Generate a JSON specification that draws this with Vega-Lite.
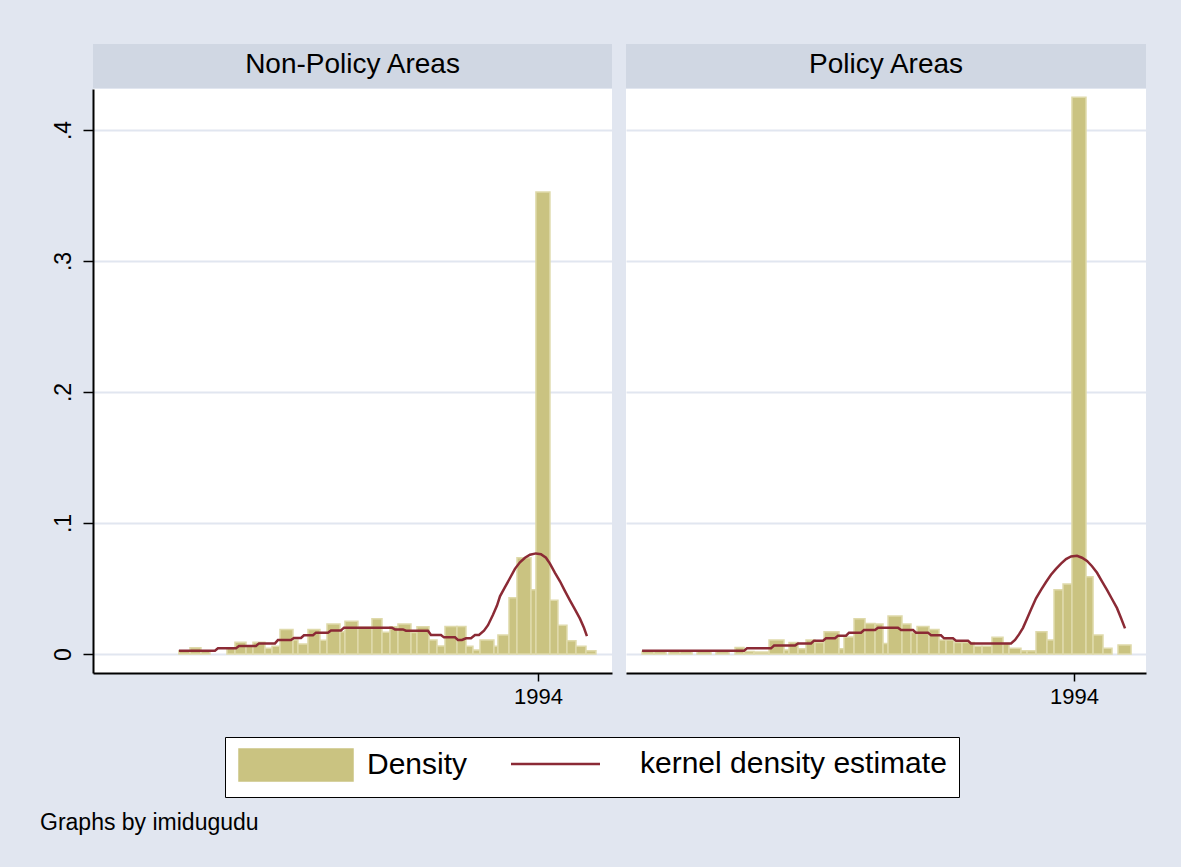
{
  "$schema": "https://vega.github.io/schema/vega-lite/v6.json",
  "background": "#E1E6F0",
  "padding": {"left": 40, "top": 44, "right": 35, "bottom": 38},
  "datasets": {
    "barsNP": [
      {"start": 1951.76, "end": 1953.06, "density": 0.0025},
      {"start": 1953.06, "end": 1954.35, "density": 0.0048},
      {"start": 1954.35, "end": 1955.41, "density": 0.0025},
      {"start": 1957.41, "end": 1958.35, "density": 0.0043},
      {"start": 1958.35, "end": 1959.65, "density": 0.0089},
      {"start": 1959.65, "end": 1960.47, "density": 0.006},
      {"start": 1960.47, "end": 1961.88, "density": 0.0089},
      {"start": 1961.88, "end": 1962.71, "density": 0.0043},
      {"start": 1962.71, "end": 1963.65, "density": 0.006},
      {"start": 1963.65, "end": 1965.18, "density": 0.0188},
      {"start": 1965.18, "end": 1965.76, "density": 0.0107},
      {"start": 1965.76, "end": 1966.94, "density": 0.0076},
      {"start": 1966.94, "end": 1968.35, "density": 0.0188},
      {"start": 1968.35, "end": 1969.18, "density": 0.0105},
      {"start": 1969.18, "end": 1970.71, "density": 0.0229},
      {"start": 1970.71, "end": 1971.29, "density": 0.017},
      {"start": 1971.29, "end": 1972.82, "density": 0.025},
      {"start": 1972.82, "end": 1974.47, "density": 0.0205},
      {"start": 1974.47, "end": 1975.65, "density": 0.027},
      {"start": 1975.65, "end": 1976.59, "density": 0.0167},
      {"start": 1976.59, "end": 1977.53, "density": 0.0209},
      {"start": 1977.53, "end": 1979.06, "density": 0.0229},
      {"start": 1979.06, "end": 1979.76, "density": 0.0165},
      {"start": 1979.76, "end": 1981.18, "density": 0.0209},
      {"start": 1981.18, "end": 1982.12, "density": 0.0107},
      {"start": 1982.12, "end": 1983.06, "density": 0.0061},
      {"start": 1983.06, "end": 1984.47, "density": 0.021},
      {"start": 1984.47, "end": 1985.53, "density": 0.021},
      {"start": 1985.53, "end": 1986.35, "density": 0.006},
      {"start": 1986.35, "end": 1987.18, "density": 0.003},
      {"start": 1987.18, "end": 1988.82, "density": 0.0107},
      {"start": 1988.82, "end": 1989.29, "density": 0.006},
      {"start": 1989.29, "end": 1990.59, "density": 0.0145},
      {"start": 1990.59, "end": 1991.53, "density": 0.043},
      {"start": 1991.53, "end": 1993.18, "density": 0.0735},
      {"start": 1993.18, "end": 1993.76, "density": 0.049},
      {"start": 1993.76, "end": 1995.41, "density": 0.3527},
      {"start": 1995.41, "end": 1996.35, "density": 0.041},
      {"start": 1996.35, "end": 1997.41, "density": 0.022},
      {"start": 1997.41, "end": 1998.47, "density": 0.0102},
      {"start": 1998.47, "end": 1999.65, "density": 0.006},
      {"start": 1999.65, "end": 2000.82, "density": 0.0025}
    ],
    "barsP": [
      {"start": 1943.18, "end": 1944.59, "density": 0.002},
      {"start": 1944.59, "end": 1946.0, "density": 0.002},
      {"start": 1946.35, "end": 1947.65, "density": 0.002},
      {"start": 1947.65, "end": 1949.06, "density": 0.002},
      {"start": 1949.65, "end": 1951.29, "density": 0.002},
      {"start": 1951.88, "end": 1953.41, "density": 0.002},
      {"start": 1954.12, "end": 1955.18, "density": 0.005},
      {"start": 1955.18, "end": 1956.35, "density": 0.002},
      {"start": 1956.35, "end": 1958.12, "density": 0.0015},
      {"start": 1958.12, "end": 1959.88, "density": 0.0107},
      {"start": 1959.88, "end": 1960.47, "density": 0.003},
      {"start": 1960.47, "end": 1961.53, "density": 0.0088},
      {"start": 1961.53, "end": 1962.47, "density": 0.004},
      {"start": 1962.47, "end": 1963.53, "density": 0.0107},
      {"start": 1963.53, "end": 1964.59, "density": 0.0088},
      {"start": 1964.59, "end": 1966.35, "density": 0.017},
      {"start": 1966.35, "end": 1966.94, "density": 0.004},
      {"start": 1966.94, "end": 1968.12, "density": 0.013},
      {"start": 1968.12, "end": 1969.41, "density": 0.027},
      {"start": 1969.41, "end": 1970.59, "density": 0.0232},
      {"start": 1970.59, "end": 1971.53, "density": 0.0229},
      {"start": 1971.53, "end": 1972.12, "density": 0.008},
      {"start": 1972.12, "end": 1973.76, "density": 0.029},
      {"start": 1973.76, "end": 1974.82, "density": 0.0229},
      {"start": 1974.82, "end": 1975.53, "density": 0.0165},
      {"start": 1975.53, "end": 1976.94, "density": 0.021},
      {"start": 1976.94, "end": 1978.12, "density": 0.0188},
      {"start": 1978.12, "end": 1978.94, "density": 0.0107},
      {"start": 1978.94, "end": 1979.88, "density": 0.0107},
      {"start": 1979.88, "end": 1980.82, "density": 0.0087},
      {"start": 1980.82, "end": 1982.24, "density": 0.0087},
      {"start": 1982.24, "end": 1983.18, "density": 0.006},
      {"start": 1983.18, "end": 1984.35, "density": 0.006},
      {"start": 1984.35, "end": 1985.65, "density": 0.0127},
      {"start": 1985.65, "end": 1986.35, "density": 0.0081},
      {"start": 1986.35, "end": 1987.76, "density": 0.0043},
      {"start": 1987.76, "end": 1988.47, "density": 0.0025},
      {"start": 1988.47, "end": 1989.53, "density": 0.0025},
      {"start": 1989.53, "end": 1990.82, "density": 0.017},
      {"start": 1990.82, "end": 1991.65, "density": 0.0107},
      {"start": 1991.65, "end": 1992.71, "density": 0.049},
      {"start": 1992.71, "end": 1993.76, "density": 0.0534},
      {"start": 1993.76, "end": 1995.41, "density": 0.425},
      {"start": 1995.41, "end": 1996.24, "density": 0.059},
      {"start": 1996.24, "end": 1997.41, "density": 0.0145},
      {"start": 1997.41, "end": 1998.47, "density": 0.0043},
      {"start": 1999.18, "end": 2000.71, "density": 0.0069}
    ],
    "kdeNP": [
      {"year": 1951.76, "density": 0.0025}, {"year": 1956.0, "density": 0.0025},
      {"year": 1956.35, "density": 0.0043}, {"year": 1958.47, "density": 0.0043},
      {"year": 1958.82, "density": 0.0061}, {"year": 1960.82, "density": 0.0061},
      {"year": 1961.18, "density": 0.0081}, {"year": 1963.06, "density": 0.0081},
      {"year": 1963.41, "density": 0.0107}, {"year": 1964.94, "density": 0.0107},
      {"year": 1965.29, "density": 0.0122}, {"year": 1966.12, "density": 0.0122},
      {"year": 1966.47, "density": 0.0143}, {"year": 1967.53, "density": 0.0143},
      {"year": 1967.88, "density": 0.0163}, {"year": 1969.29, "density": 0.0163},
      {"year": 1969.65, "density": 0.018}, {"year": 1970.82, "density": 0.018},
      {"year": 1971.18, "density": 0.0201}, {"year": 1976.82, "density": 0.0201},
      {"year": 1977.18, "density": 0.0188}, {"year": 1978.12, "density": 0.0188},
      {"year": 1978.47, "density": 0.0178}, {"year": 1981.06, "density": 0.0178},
      {"year": 1981.41, "density": 0.0145}, {"year": 1982.59, "density": 0.0145},
      {"year": 1982.94, "density": 0.0127}, {"year": 1984.24, "density": 0.0127},
      {"year": 1984.59, "density": 0.0107}, {"year": 1985.06, "density": 0.0107},
      {"year": 1985.53, "density": 0.012}, {"year": 1986.12, "density": 0.012},
      {"year": 1986.59, "density": 0.0145}, {"year": 1987.06, "density": 0.0145},
      {"year": 1987.65, "density": 0.0178}, {"year": 1988.12, "density": 0.022},
      {"year": 1988.71, "density": 0.03}, {"year": 1989.18, "density": 0.037},
      {"year": 1989.53, "density": 0.044}, {"year": 1990.12, "density": 0.051},
      {"year": 1990.71, "density": 0.058}, {"year": 1991.29, "density": 0.065},
      {"year": 1991.88, "density": 0.07}, {"year": 1992.47, "density": 0.0735},
      {"year": 1993.06, "density": 0.0758}, {"year": 1993.76, "density": 0.0768},
      {"year": 1994.35, "density": 0.0762}, {"year": 1994.94, "density": 0.0735},
      {"year": 1995.41, "density": 0.069}, {"year": 1996.0, "density": 0.062},
      {"year": 1996.59, "density": 0.0555}, {"year": 1997.18, "density": 0.048},
      {"year": 1997.76, "density": 0.041}, {"year": 1998.35, "density": 0.034},
      {"year": 1998.94, "density": 0.027}, {"year": 1999.41, "density": 0.02},
      {"year": 1999.76, "density": 0.0137}
    ],
    "kdeP": [
      {"year": 1943.18, "density": 0.0025}, {"year": 1955.18, "density": 0.0025},
      {"year": 1955.53, "density": 0.0043}, {"year": 1958.35, "density": 0.0043},
      {"year": 1958.71, "density": 0.0064}, {"year": 1961.18, "density": 0.0064},
      {"year": 1961.53, "density": 0.0081}, {"year": 1963.06, "density": 0.0081},
      {"year": 1963.41, "density": 0.0102}, {"year": 1964.47, "density": 0.0102},
      {"year": 1964.82, "density": 0.012}, {"year": 1965.88, "density": 0.012},
      {"year": 1966.24, "density": 0.014}, {"year": 1967.18, "density": 0.014},
      {"year": 1967.53, "density": 0.0163}, {"year": 1968.94, "density": 0.0163},
      {"year": 1969.29, "density": 0.0183}, {"year": 1970.59, "density": 0.0183},
      {"year": 1970.94, "density": 0.0201}, {"year": 1973.29, "density": 0.0201},
      {"year": 1973.65, "density": 0.0183}, {"year": 1975.06, "density": 0.0183},
      {"year": 1975.41, "density": 0.0163}, {"year": 1976.82, "density": 0.0163},
      {"year": 1977.18, "density": 0.0143}, {"year": 1978.35, "density": 0.0143},
      {"year": 1978.71, "density": 0.012}, {"year": 1979.76, "density": 0.012},
      {"year": 1980.12, "density": 0.0102}, {"year": 1981.53, "density": 0.0102},
      {"year": 1981.88, "density": 0.0081}, {"year": 1986.59, "density": 0.0081},
      {"year": 1987.06, "density": 0.0107}, {"year": 1987.53, "density": 0.015},
      {"year": 1988.0, "density": 0.02}, {"year": 1988.47, "density": 0.027},
      {"year": 1988.94, "density": 0.034}, {"year": 1989.53, "density": 0.0425},
      {"year": 1990.12, "density": 0.049}, {"year": 1990.71, "density": 0.055},
      {"year": 1991.29, "density": 0.0605}, {"year": 1991.88, "density": 0.065},
      {"year": 1992.47, "density": 0.069}, {"year": 1993.06, "density": 0.0725},
      {"year": 1993.65, "density": 0.0745}, {"year": 1994.35, "density": 0.075},
      {"year": 1994.94, "density": 0.0735}, {"year": 1995.53, "density": 0.071},
      {"year": 1996.12, "density": 0.067}, {"year": 1996.71, "density": 0.062},
      {"year": 1997.29, "density": 0.0555}, {"year": 1997.88, "density": 0.049},
      {"year": 1998.47, "density": 0.042}, {"year": 1999.06, "density": 0.035},
      {"year": 1999.53, "density": 0.0275}, {"year": 2000.0, "density": 0.0196}
    ]
  },
  "title": {
    "text": "Graphs by imidugudu",
    "orient": "bottom",
    "anchor": "start",
    "frame": "group",
    "dx": -53,
    "offset": 14,
    "fontSize": 23,
    "font": "Liberation Sans",
    "fontWeight": "normal",
    "color": "black"
  },
  "spacing": 14,
  "hconcat": [
    {
      "bounds": "flush",
      "spacing": 1,
      "vconcat": [
        {
          "width": 519,
          "height": 44,
          "view": {"fill": "#D0D7E3", "stroke": null},
          "data": {"values": [{"panel": "Non-Policy Areas"}]},
          "mark": {"type": "text", "fontSize": 28, "font": "Liberation Sans", "color": "black", "baseline": "middle", "dy": -1},
          "encoding": {"text": {"field": "panel", "type": "nominal"}}
        },
        {
          "width": 519,
          "height": 584,
          "view": {"fill": "white", "stroke": null},
          "layer": [
            {
              "data": {"name": "barsNP"},
              "mark": {"type": "rect", "stroke": "#DFDAAB", "strokeWidth": 1.5},
              "encoding": {
                "x": {
                  "field": "start", "type": "quantitative",
                  "scale": {"domain": [1941.65, 2002.71], "nice": false, "zero": false},
                  "axis": {"values": [1994], "format": "d", "title": null, "grid": false, "domainColor": "black", "domainWidth": 2, "tickColor": "black", "tickWidth": 1.5, "tickSize": 8, "labelFontSize": 22, "labelColor": "black", "labelPadding": 5, "labelFont": "Liberation Sans"}
                },
                "x2": {"field": "end"},
                "y": {
                  "field": "density", "type": "quantitative",
                  "scale": {"domain": [-0.0145, 0.4313], "nice": false, "zero": false},
                  "axis": {"values": [0, 0.1, 0.2, 0.3, 0.4], "title": null, "labelExpr": "datum.value === 0 ? '0' : replace(format(datum.value, '.1f'), '0.', '.')", "labelAngle": 270, "labelAlign": "center", "labelBaseline": "bottom", "labelFontSize": 23, "labelFont": "Liberation Sans", "labelColor": "black", "labelPadding": 8, "tickSize": 10, "tickColor": "black", "tickWidth": 1.5, "domainColor": "black", "domainWidth": 2, "grid": true, "gridColor": "#E1E6F0", "gridWidth": 2}
                },
                "y2": {"datum": 0},
                "color": {
                  "datum": "Density", "type": "nominal",
                  "scale": {"domain": ["Density", "kernel density estimate"], "range": ["#CAC381", "#8B2A35"]},
                  "legend": {
                    "title": null,
                    "orient": "none",
                    "legendX": 132,
                    "legendY": 693,
                    "direction": "horizontal",
                    "fillColor": "white",
                    "strokeColor": "black",
                    "padding": 12,
                    "symbolSize": 1024,
                    "symbolType": {"expr": "datum.value === 'Density' ? 'M-0.8125,-1H6.3125V1H-0.8125Z' : 'M-0.875,-1M-0.875,1M-0.875,0H4.6875'"},
                    "symbolStrokeColor": {"expr": "datum.value === 'Density' ? '#DFDAAB' : '#8B2A35'"},
                    "symbolFillColor": {"expr": "datum.value === 'Density' ? '#CAC381' : 'transparent'"},
                    "symbolStrokeWidth": {"expr": "datum.value === 'Density' ? 1.5 : 2.5"},
                    "symbolOpacity": 1,
                    "labelFontSize": 30,
                    "labelFont": "Liberation Sans",
                    "labelColor": "black",
                    "labelOffset": 100,
                    "labelLimit": 500,
                    "columnPadding": 38
                  }
                }
              }
            },
            {
              "data": {"name": "kdeNP"},
              "mark": {"type": "line", "strokeWidth": 2.5},
              "encoding": {
                "x": {"field": "year", "type": "quantitative"},
                "y": {"field": "density", "type": "quantitative"},
                "color": {"datum": "kernel density estimate", "type": "nominal"}
              }
            }
          ]
        }
      ]
    },
    {
      "bounds": "flush",
      "spacing": 1,
      "vconcat": [
        {
          "width": 520,
          "height": 44,
          "view": {"fill": "#D0D7E3", "stroke": null},
          "data": {"values": [{"panel": "Policy Areas"}]},
          "mark": {"type": "text", "fontSize": 28, "font": "Liberation Sans", "color": "black", "baseline": "middle", "dy": -1},
          "encoding": {"text": {"field": "panel", "type": "nominal"}}
        },
        {
          "width": 520,
          "height": 584,
          "view": {"fill": "white", "stroke": null},
          "layer": [
            {
              "data": {"name": "barsP"},
              "mark": {"type": "rect", "fill": "#CAC381", "stroke": "#DFDAAB", "strokeWidth": 1.5},
              "encoding": {
                "x": {
                  "field": "start", "type": "quantitative",
                  "scale": {"domain": [1941.29, 2002.47], "nice": false, "zero": false},
                  "axis": {"values": [1994], "format": "d", "title": null, "grid": false, "domainColor": "black", "domainWidth": 2, "tickColor": "black", "tickWidth": 1.5, "tickSize": 8, "labelFontSize": 22, "labelColor": "black", "labelPadding": 5, "labelFont": "Liberation Sans"}
                },
                "x2": {"field": "end"},
                "y": {
                  "field": "density", "type": "quantitative",
                  "scale": {"domain": [-0.0145, 0.4313], "nice": false, "zero": false},
                  "axis": {"values": [0, 0.1, 0.2, 0.3, 0.4], "title": null, "labels": false, "ticks": false, "domain": false, "grid": true, "gridColor": "#E1E6F0", "gridWidth": 2}
                },
                "y2": {"datum": 0}
              }
            },
            {
              "data": {"name": "kdeP"},
              "mark": {"type": "line", "strokeWidth": 2.5, "color": "#8B2A35"},
              "encoding": {
                "x": {"field": "year", "type": "quantitative"},
                "y": {"field": "density", "type": "quantitative"}
              }
            }
          ]
        }
      ]
    }
  ],
  "config": {
    "view": {"stroke": null},
    "font": "Liberation Sans"
  }
}
